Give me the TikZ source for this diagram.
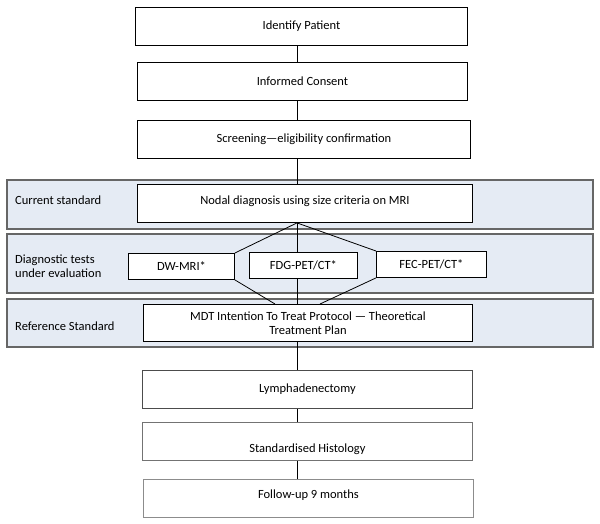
\documentclass[tikz,border=0pt]{standalone}
\usepackage{fontspec}
\setmainfont{Carlito}
\usetikzlibrary{positioning}
\definecolor{bandfill}{HTML}{E5EBF4}
\definecolor{bandline}{HTML}{666666}

\begin{document}
\begin{tikzpicture}[x=1pt,y=-1pt,
  box/.style={draw,fill=white,line width=0.9pt,anchor=north west,inner sep=0pt,
    minimum height=38pt,font=\fontsize{12.5}{14.5}\selectfont},
  greybox/.style={box,draw=black!55},
  testbox/.style={box,minimum height=26pt},
  band/.style={draw=bandline,fill=bandfill,line width=1.2pt},
  bandtext/.style={anchor=west,align=left,inner sep=0pt,font=\fontsize{12.5}{14.5}\selectfont},
  link/.style={line width=0.8pt}]

  \useasboundingbox (0,0) rectangle (600,523);

  % Bands
  \draw [band] (7,180) rectangle (593,229);
  \draw [band] (7,234) rectangle (593,293);
  \draw [band] (7,299) rectangle (593,347);

  \node [bandtext] (curlab) at (15,200) {Current standard};
  \node [bandtext] (evallab) at (15,266) {Diagnostic tests\\under evaluation};
  \node [bandtext] (reflab) at (15,326) {Reference Standard};

  % Recruitment
  \node [box,minimum width=332pt] (ident) at (135,7) {Identify Patient};
  \node [box,minimum width=330pt] (consent) at (137,62) {Informed Consent};
  \node [box,minimum width=333pt] (screen) at (137,120) {Screening—eligibility confirmation};

  % Index tests
  \node [box,minimum width=335pt] (nodal) at (137,184) {\raisebox{-1pt}[0pt][0pt]{Nodal diagnosis using size criteria on MRI}};
  \node [testbox,minimum width=106pt] (dwmri) at (128,253) {DW-MRI*};
  \node [testbox,minimum width=108pt] (fdg) at (249,252) {FDG-PET/CT*};
  \node [testbox,minimum width=110pt] (fec) at (376,251) {FEC-PET/CT*};
  \node [box,minimum width=329pt,minimum height=37pt,align=center] (mdt) at (143,304)
    {MDT Intention To Treat Protocol — Theoretical\\Treatment Plan};

  % Follow-up
  \node [greybox,minimum width=330pt,draw=black!70] (lymph) at (142,370) {Lymphadenectomy};
  \node [greybox,minimum width=330pt] (histo) at (142,422) {\raisebox{-11pt}[0pt][0pt]{Standardised Histology}};
  \node [greybox,minimum width=330pt,draw=black!45] (follow) at (143,479) {\raisebox{0pt}[0pt][0pt]{Follow-up 9 months}};

  \coordinate (spine) at (297,0);

  % Connectors
  \draw [link] (ident.south -| spine) -- (consent.north -| spine);
  \draw [link] (consent.south -| spine) -- (screen.north -| spine);
  \draw [link] (screen.south -| spine) -- (nodal.north -| spine);
  \draw [link] (nodal.south -| spine) -- (fdg.north -| spine);
  \draw [link] (nodal.south -| spine) -- (dwmri.north east);
  \draw [link] (nodal.south -| spine) -- (fec.north west);
  \draw [link] (fdg.south -| spine) -- (mdt.north -| spine);
  \draw [link] (dwmri.south east) -- ([xshift=-22pt]mdt.north -| spine);
  \draw [link] (fec.south west) -- ([xshift=23pt]mdt.north -| spine);
  \draw [link] (mdt.south -| spine) -- (lymph.north -| spine);
  \draw [link] (lymph.south -| spine) -- (histo.north -| spine);
  \draw [link] (histo.south -| spine) -- (follow.north -| spine);

\end{tikzpicture}
\end{document}
